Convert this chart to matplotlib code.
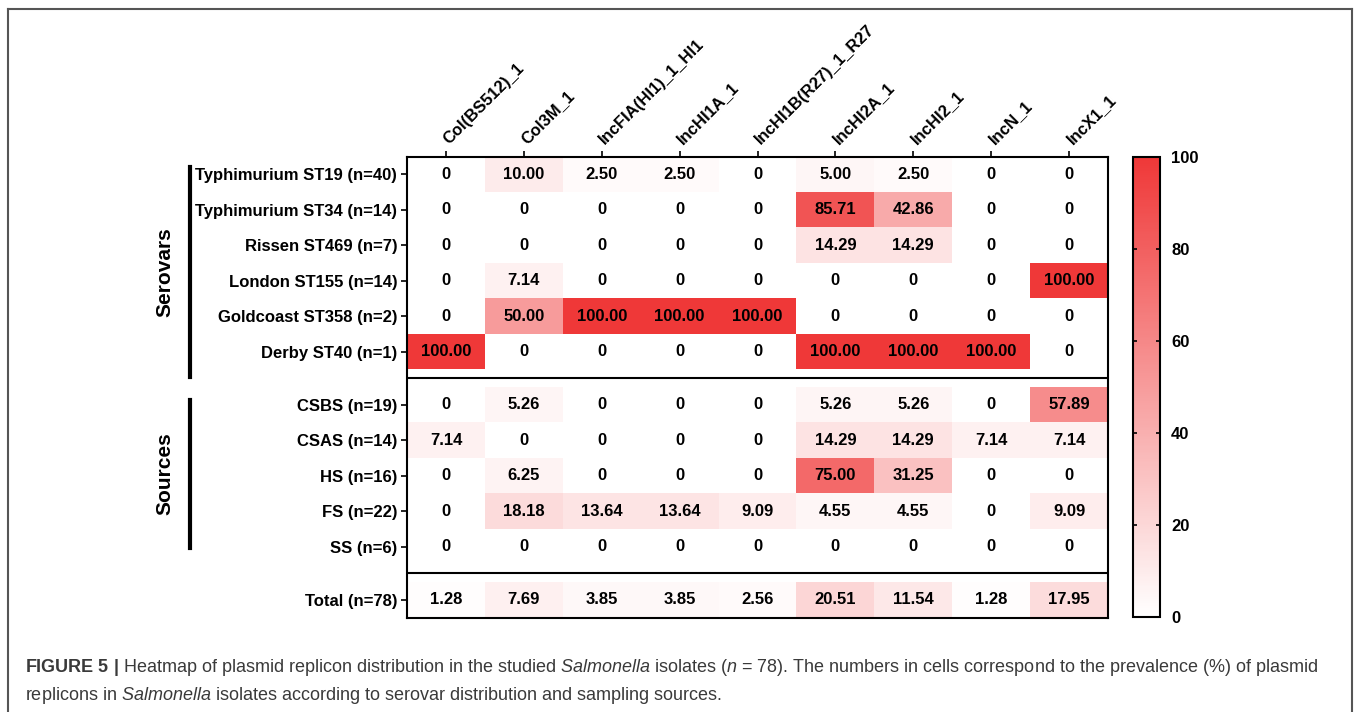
import matplotlib
matplotlib.use("Agg")
import matplotlib.pyplot as plt
import numpy as np
from matplotlib.colors import LinearSegmentedColormap
from matplotlib.lines import Line2D

plt.rcParams["font.family"] = ["Liberation Sans", "DejaVu Sans"]
plt.rcParams["mathtext.fontset"] = "custom"
plt.rcParams["mathtext.rm"] = "Liberation Sans"
plt.rcParams["mathtext.it"] = "Liberation Sans:italic"
plt.rcParams["mathtext.bf"] = "Liberation Sans:bold"

# ── Data ─────────────────────────────────────────────────────────────────────
replicons = ["Col(BS512)_1", "Col3M_1", "IncFIA(HI1)_1_HI1", "IncHI1A_1",
             "IncHI1B(R27)_1_R27", "IncHI2A_1", "IncHI2_1", "IncN_1", "IncX1_1"]

serovar_labels = ["Typhimurium ST19 (n=40)", "Typhimurium ST34 (n=14)",
                  "Rissen ST469 (n=7)", "London ST155 (n=14)",
                  "Goldcoast ST358 (n=2)", "Derby ST40 (n=1)"]
serovar_vals = [
    [0, 10.00, 2.50, 2.50, 0, 5.00, 2.50, 0, 0],
    [0, 0, 0, 0, 0, 85.71, 42.86, 0, 0],
    [0, 0, 0, 0, 0, 14.29, 14.29, 0, 0],
    [0, 7.14, 0, 0, 0, 0, 0, 0, 100.00],
    [0, 50.00, 100.00, 100.00, 100.00, 0, 0, 0, 0],
    [100.00, 0, 0, 0, 0, 100.00, 100.00, 100.00, 0],
]

source_labels = ["CSBS (n=19)", "CSAS (n=14)", "HS (n=16)", "FS (n=22)", "SS (n=6)"]
source_vals = [
    [0, 5.26, 0, 0, 0, 5.26, 5.26, 0, 57.89],
    [7.14, 0, 0, 0, 0, 14.29, 14.29, 7.14, 7.14],
    [0, 6.25, 0, 0, 0, 75.00, 31.25, 0, 0],
    [0, 18.18, 13.64, 13.64, 9.09, 4.55, 4.55, 0, 9.09],
    [0, 0, 0, 0, 0, 0, 0, 0, 0],
]

total_label = ["Total (n=78)"]
total_vals = [[1.28, 7.69, 3.85, 3.85, 2.56, 20.51, 11.54, 1.28, 17.95]]

cbar_ticks = [0, 20, 40, 60, 80, 100]

# ── Layout: blocks separated by half-row gaps ────────────────────────────────
GAP = 0.5
FS = 12
blocks = [(serovar_labels, serovar_vals), (source_labels, source_vals),
          (total_label, total_vals)]

rows, labels, centers, values, edges, sep_lines = [], [], [], [], [-0.5], []
y = 0.0
for bi, (lab, vals) in enumerate(blocks):
    if bi > 0:
        # masked gap row between blocks, separator line in its middle
        sep_lines.append(edges[-1] + GAP / 2)
        rows.append([np.nan] * len(replicons))
        edges.append(edges[-1] + GAP)
        y += GAP
    for l, v in zip(lab, vals):
        rows.append(v)
        values.append(v)
        labels.append(l)
        centers.append(y)
        edges.append(edges[-1] + 1)
        y += 1

Z = np.ma.masked_invalid(np.array(rows, dtype=float))
x_edges = np.arange(len(replicons) + 1) - 0.5

cmap = LinearSegmentedColormap.from_list("wr", ["#FFFFFF", "#EF3838"])

W, H = 1357, 712
fig = plt.figure(figsize=(W / 100, H / 100), dpi=100)
ax = fig.add_axes([407 / W, 1 - 617.5 / H, 701 / W, 461 / H])

mesh = ax.pcolormesh(x_edges, edges, Z, cmap=cmap, vmin=0, vmax=100)
ax.set_xlim(x_edges[0], x_edges[-1])
ax.set_ylim(edges[-1], edges[0])

for yc, v in zip(centers, values):
    for xi, val in enumerate(v):
        txt = "0" if val == 0 else f"{val:.2f}"
        ax.text(xi, yc, txt, ha="center", va="center", fontsize=FS,
                fontweight="bold", color="black")

for s in sep_lines:
    ax.axhline(s, color="black", linewidth=1.5)

ax.set_yticks(centers)
ax.set_yticklabels(labels, fontsize=FS, fontweight="bold")
ax.tick_params(axis="y", length=4, width=1.2, pad=3)
ax.xaxis.tick_top()
ax.set_xticks(range(len(replicons)))
ax.set_xticklabels(replicons, fontsize=FS, fontweight="bold", rotation=45,
                   ha="left", va="center", rotation_mode="anchor")
ax.tick_params(axis="x", length=4, width=1.2, pad=7)
for sp in ax.spines.values():
    sp.set_linewidth(1.5)

# colorbar
cax = fig.add_axes([1133 / W, 1 - 617 / H, 27 / W, 460 / H])
cb = fig.colorbar(mesh, cax=cax, ticks=cbar_ticks)
cb.outline.set_linewidth(1.5)
cax.tick_params(direction="in", left=True, right=True, length=3, width=1.2,
                labelsize=FS, pad=8)
for t in cax.get_yticklabels():
    t.set_fontweight("bold")

# group brackets
for (y0, y1, name) in [(167, 377, "Serovars"), (400, 548, "Sources")]:
    fig.add_artist(Line2D([190 / W, 190 / W], [1 - y0 / H, 1 - y1 / H],
                          color="black", linewidth=3))
    fig.text(165 / W, 1 - (y0 + y1) / 2 / H, name, rotation=90, ha="center",
             va="center", fontsize=15, fontweight="bold")

# outer frame
frame_kw = dict(color="#555555", linewidth=1.5)
fig.add_artist(Line2D([8 / W, 8 / W], [0, 1 - 8.5 / H], **frame_kw))
fig.add_artist(Line2D([8 / W, 1352 / W], [1 - 8.5 / H, 1 - 8.5 / H], **frame_kw))
fig.add_artist(Line2D([1352 / W, 1352 / W], [0, 1 - 8.5 / H], **frame_kw))

# caption
cap1 = (r"$\mathbf{FIGURE\ 5\ |}$ Heatmap of plasmid replicon distribution in the studied "
        r"$\mathit{Salmonella}$ isolates ($\mathit{n}$ = 78). The numbers in cells "
        r"correspond to the prevalence (%) of plasmid")
cap2 = (r"replicons in $\mathit{Salmonella}$ isolates according to serovar "
        r"distribution and sampling sources.")
fig.text(25 / W, 1 - 672 / H, cap1, fontsize=13, color="#3a3a3a", va="baseline")
fig.text(25 / W, 1 - 700 / H, cap2, fontsize=13, color="#3a3a3a", va="baseline")

fig.savefig("out.png", dpi=100)
